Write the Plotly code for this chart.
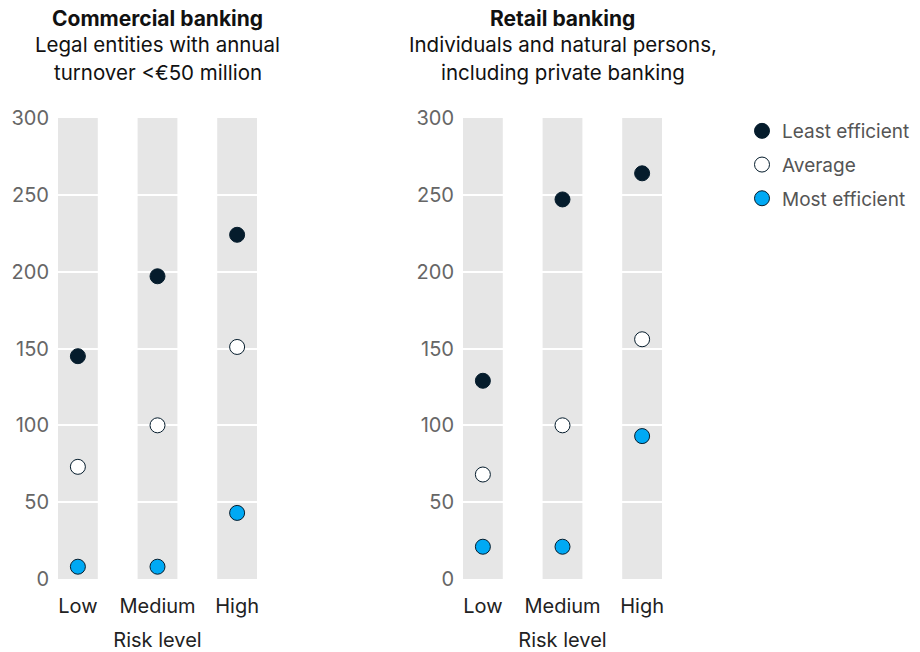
import plotly.graph_objects as go

# Risk levels shown on each panel's x axis
risk_levels = ["Low", "Medium", "High"]

# Commercial banking: legal entities with annual turnover < EUR 50 million
commercial_least = [145, 197, 224]
commercial_average = [73, 100, 151]
commercial_most = [8, 8, 43]

# Retail banking: individuals and natural persons, incl. private banking
retail_least = [129, 247, 264]
retail_average = [68, 100, 156]
retail_most = [21, 21, 93]

series_names = ["Least efficient", "Average", "Most efficient"]
y_ticks = [0, 50, 100, 150, 200, 250, 300]
y_max = 300

NAVY = "#051c2c"
BLUE = "#00a9f4"
BAND = "#e6e6e6"
FONT = "Inter"

W, H = 920, 652
M_TOP, M_BOT = 118, 73
PLOT_H = H - M_TOP - M_BOT


def px_x(p):
    return p / W


def px_y(p):
    return (H - M_BOT - p) / PLOT_H


fig = go.Figure()

panels = [
    ("x", "y", commercial_least, commercial_average, commercial_most),
    ("x2", "y2", retail_least, retail_average, retail_most),
]
fills = [NAVY, "#ffffff", BLUE]
xs = list(range(len(risk_levels)))

for pi, (xa, ya, least, avg, most) in enumerate(panels):
    for si, (name, vals, fill) in enumerate(zip(series_names, [least, avg, most], fills)):
        fig.add_trace(go.Scatter(
            x=xs, y=vals, xaxis=xa, yaxis=ya, mode="markers", name=name,
            legendgroup=name, showlegend=(pi == 0), cliponaxis=False,
            marker=dict(size=15, color=fill, line=dict(color=NAVY, width=1)),
            hovertemplate="%{y}<extra>" + name + "</extra>",
        ))
    # grey column behind each risk level, beneath the white gridlines
    for i in xs:
        fig.add_shape(type="rect", xref=xa, yref=ya, x0=i - 0.25, x1=i + 0.25,
                      y0=0, y1=y_max, fillcolor=BAND, line_width=0, layer="below")

axis_common = dict(showline=False, zeroline=False, ticks="")
x_common = dict(axis_common, tickvals=xs, ticktext=risk_levels, range=[-0.3, 2.3],
                showgrid=False, tickfont=dict(family=FONT, size=20, color="#222222"),
                ticklabelstandoff=13,
                title=dict(text="Risk level", font=dict(family=FONT, size=20, color="#222222"),
                           standoff=15))
y_common = dict(axis_common, range=[0, y_max], tickvals=y_ticks, showgrid=True,
                gridcolor="#ffffff", gridwidth=1.5,
                tickfont=dict(family=FONT, size=20, color="#666666"), ticklabelstandoff=4)

fig.update_layout(
    width=W, height=H,
    margin=dict(l=0, r=0, t=M_TOP, b=M_BOT),
    paper_bgcolor="#ffffff", plot_bgcolor="#ffffff",
    xaxis=dict(x_common, domain=[px_x(54), px_x(261)], anchor="y"),
    yaxis=dict(y_common, anchor="x"),
    xaxis2=dict(x_common, domain=[px_x(459), px_x(666)], anchor="y2"),
    yaxis2=dict(y_common, anchor="x2"),
    legend=dict(x=px_x(742), y=px_y(112), xanchor="left", yanchor="top",
                font=dict(family=FONT, size=19, color="#555555"),
                tracegroupgap=6, itemwidth=30, bgcolor="rgba(0,0,0,0)"),
    showlegend=True,
    font=dict(family=FONT),
)

titles = [
    (157.5, ["<b>Commercial banking</b>", "Legal entities with annual", "turnover <€50 million"]),
    (562.5, ["<b>Retail banking</b>", "Individuals and natural persons,", "including private banking"]),
]
for cx, lines in titles:
    for li, txt in enumerate(lines):
        fig.add_annotation(x=px_x(cx), y=px_y(18 + 27 * li), xref="paper", yref="paper",
                           text=txt, showarrow=False, xanchor="center", yanchor="middle",
                           font=dict(family=FONT, size=21 if li == 0 else 20.5,
                                     color="#111111"))

fig.write_html("out.html")
